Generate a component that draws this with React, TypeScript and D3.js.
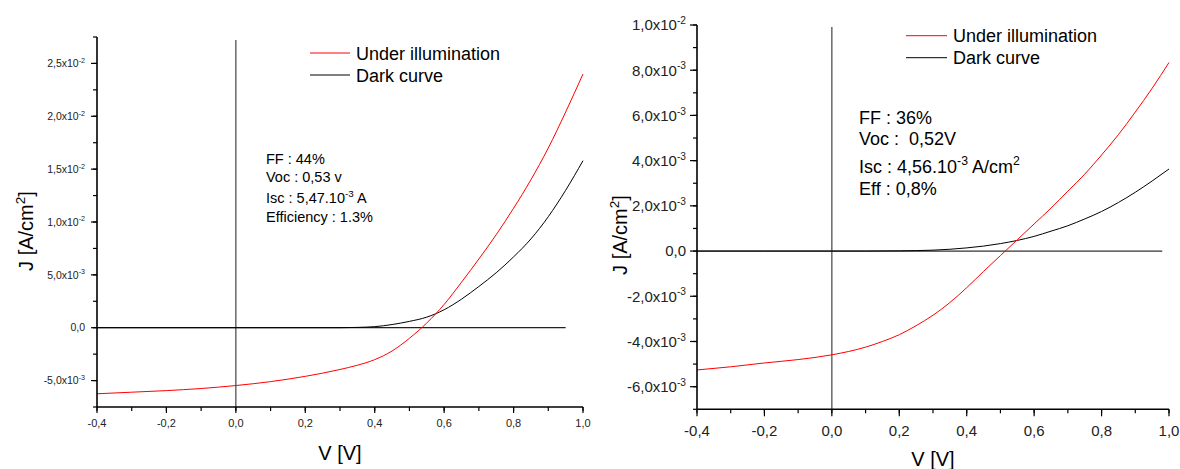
import React from "react";
import * as d3 from "d3";

// ---------- DATA ----------
// Left panel (J in A/cm^2, values x1e-3)
const leftIllumV = [-0.4, -0.3, -0.2, -0.1, 0.0, 0.1, 0.2, 0.25, 0.3, 0.35, 0.4, 0.45, 0.5, 0.55, 0.6, 0.65, 0.7, 0.75, 0.8, 0.85, 0.9, 0.95, 1.0];
const leftIllumJ = [-6.25, -6.1, -5.95, -5.75, -5.47, -5.1, -4.6, -4.3, -3.95, -3.55, -3.02, -2.2, -1.0, 0.45, 2.2, 4.3, 6.5, 8.8, 11.3, 14.0, 17.0, 20.4, 24.0];
const leftDarkV = [-0.4, -0.2, 0.0, 0.2, 0.3, 0.35, 0.4, 0.45, 0.5, 0.55, 0.6, 0.65, 0.7, 0.75, 0.8, 0.85, 0.9, 0.95, 1.0];
const leftDarkJ = [0, 0, 0, 0, 0.0, 0.03, 0.1, 0.3, 0.6, 1.0, 1.7, 2.7, 3.9, 5.2, 6.7, 8.4, 10.5, 13.0, 15.8];

// Right panel (J in A/cm^2, values x1e-3)
const rightIllumV = [-0.4, -0.3, -0.2, -0.1, 0.0, 0.1, 0.15, 0.2, 0.25, 0.3, 0.35, 0.4, 0.45, 0.5, 0.55, 0.6, 0.65, 0.7, 0.75, 0.8, 0.85, 0.9, 0.95, 1.0];
const rightIllumJ = [-5.26, -5.12, -4.95, -4.8, -4.59, -4.25, -4.0, -3.7, -3.3, -2.84, -2.28, -1.62, -0.9, -0.2, 0.5, 1.2, 1.9, 2.65, 3.4, 4.25, 5.15, 6.15, 7.2, 8.34];
const rightDarkV = [-0.4, -0.2, 0.0, 0.1, 0.2, 0.3, 0.4, 0.45, 0.5, 0.55, 0.6, 0.65, 0.7, 0.75, 0.8, 0.85, 0.9, 0.95, 1.0];
const rightDarkJ = [0, 0, 0, 0.0, 0.01, 0.04, 0.14, 0.22, 0.33, 0.47, 0.65, 0.88, 1.12, 1.42, 1.75, 2.15, 2.6, 3.1, 3.63];

// Ticks
const xMajorTicks = [-0.4, -0.2, 0.0, 0.2, 0.4, 0.6, 0.8, 1.0];
const xTickLabels = ["-0,4", "-0,2", "0,0", "0,2", "0,4", "0,6", "0,8", "1,0"];
const leftYMajor = [-0.005, 0, 0.005, 0.01, 0.015, 0.02, 0.025];
const rightYMajor = [-0.006, -0.004, -0.002, 0, 0.002, 0.004, 0.006, 0.008, 0.01];

const legendLabels = ["Under illumination", "Dark curve"];
const leftNotes = ["FF : 44%", "Voc : 0,53 v", "Isc : 5,47.10|-3| A", "Efficiency : 1.3%"];
const rightNotes = ["FF : 36%", "Voc :  0,52V", "Isc : 4,56.10|-3| A/cm|2", "Eff : 0,8%"];

const FONT = "'Liberation Sans', Arial, Helvetica, sans-serif";

function fmtSci(v: number): { m: string; e: string | null } {
  if (Math.abs(v) < 1e-12) return { m: "0,0", e: null };
  const e = Math.floor(Math.log10(Math.abs(v)) + 1e-9);
  const m = v / Math.pow(10, e);
  return { m: m.toFixed(1).replace(".", ",") + "x10", e: String(e) };
}

function RichText({ text, x, y, size, supSize, supDy }: any) {
  const parts = text.split("|");
  const out: any[] = [];
  let raised = false;
  parts.forEach((p: string, i: number) => {
    if (p === "") return;
    const isSup = i % 2 === 1;
    let dy = 0;
    if (isSup && !raised) { dy = -supDy; raised = true; }
    if (!isSup && raised) { dy = supDy; raised = false; }
    out.push(
      <tspan key={i} dy={dy} fontSize={isSup ? supSize : size}>{p}</tspan>
    );
  });
  return (
    <text x={x} y={y} fontSize={size} fontFamily={FONT} fill="#000" style={{ whiteSpace: "pre" }}>
      {out}
    </text>
  );
}

function Panel(props: any) {
  const {
    xRange, yRange, yDomain, yMajor, yMinorStep,
    illumV, illumJ, darkV, darkJ,
    zeroEnd, vTop, tickFont, yTickFont, yLabelGap, xLabelY,
    majorLen, minorLen, legend, notes, noteFont, noteX, noteYs,
    jTitle, vTitle, titleFont, axisW, zeroColor,
  } = props;
  const x = d3.scaleLinear().domain([-0.4, 1.0]).range(xRange);
  const y = d3.scaleLinear().domain(yDomain).range(yRange);
  const line = d3.line<[number, number]>()
    .x((d) => x(d[0]))
    .y((d) => y(d[1] * 1e-3))
    .curve(d3.curveMonotoneX);
  const illum = illumV.map((v: number, i: number) => [v, illumJ[i]] as [number, number]);
  const dark = darkV.map((v: number, i: number) => [v, darkJ[i]] as [number, number]);
  const xMinor = d3.range(-0.4, 1.0001, 0.1);
  const yMinor = d3.range(yDomain[0], yDomain[1] + 1e-9, yMinorStep);
  const x0 = xRange[0];
  const yb = yRange[0];

  return (
    <g>
      <line x1={x(0)} x2={x(0)} y1={vTop} y2={yb} stroke="#444" strokeWidth={1.2} />
      <line x1={x0} x2={x(zeroEnd)} y1={y(0)} y2={y(0)} stroke={zeroColor} strokeWidth={1.2} />
      <path d={line(dark) || ""} fill="none" stroke="#000" strokeWidth={1} />
      <path d={line(illum) || ""} fill="none" stroke="#ff0000" strokeWidth={1} />
      <line x1={x0} x2={x0} y1={yRange[1]} y2={yb} stroke="#000" strokeWidth={axisW} />
      <line x1={x0} x2={xRange[1]} y1={yb} y2={yb} stroke="#000" strokeWidth={axisW} />
      {xMinor.map((v: number, i: number) => (
        <line key={"xm" + i} x1={x(v)} x2={x(v)} y1={yb} y2={yb + minorLen} stroke="#000" strokeWidth={1.2} />
      ))}
      {xMajorTicks.map((v, i) => (
        <g key={"xM" + i}>
          <line x1={x(v)} x2={x(v)} y1={yb} y2={yb + majorLen} stroke="#000" strokeWidth={1.2} />
          <text x={x(v)} y={xLabelY} textAnchor="middle" fontSize={tickFont} fontFamily={FONT} fill="#222">{xTickLabels[i]}</text>
        </g>
      ))}
      {yMinor.map((v: number, i: number) => (
        <line key={"ym" + i} x1={x0} x2={x0 - minorLen} y1={y(v)} y2={y(v)} stroke="#000" strokeWidth={1.2} />
      ))}
      {yMajor.map((v: number, i: number) => {
        const f = fmtSci(v);
        return (
          <g key={"yM" + i}>
            <line x1={x0} x2={x0 - majorLen} y1={y(v)} y2={y(v)} stroke="#000" strokeWidth={1.2} />
            <text x={x0 - yLabelGap} y={y(v) + yTickFont * 0.36} textAnchor="end" fontSize={yTickFont} fontFamily={FONT} fill="#222">
              {f.m}
              {f.e !== null && (
                <tspan dy={-yTickFont * 0.42} fontSize={yTickFont * 0.68}>{f.e}</tspan>
              )}
            </text>
          </g>
        );
      })}
      {legend.map((l: any, i: number) => (
        <g key={"lg" + i}>
          <line x1={l.x1} x2={l.x2} y1={l.y} y2={l.y} stroke={i === 0 ? "#ff0000" : "#000"} strokeWidth={1} />
          <text x={l.x2 + 6} y={l.y + 6.5} fontSize={18} fontFamily={FONT} fill="#000">{legendLabels[i]}</text>
        </g>
      ))}
      {notes.map((n: string, i: number) => (
        <RichText key={"n" + i} text={n} x={noteX} y={noteYs[i]} size={noteFont} supSize={noteFont * 0.68} supDy={noteFont * 0.42} />
      ))}
      <text transform={`translate(${jTitle[0]},${jTitle[1]}) rotate(-90)`} textAnchor="middle" fontSize={titleFont} fontFamily={FONT} fill="#000">
        J [A/cm<tspan dy={-titleFont * 0.42} fontSize={titleFont * 0.68}>2</tspan><tspan dy={titleFont * 0.42}>]</tspan>
      </text>
      <text x={(xRange[0] + xRange[1]) / 2} y={vTitle} textAnchor="middle" fontSize={titleFont} fontFamily={FONT} fill="#000">V [V]</text>
    </g>
  );
}

export default function App() {
  return (
    <svg width={1180} height={469} style={{ position: "absolute", left: 0, top: 0, background: "#fff" }}>
      <rect width={1180} height={469} fill="#fff" />
      <Panel
        xRange={[97, 583]}
        yRange={[407, 37]}
        yDomain={[-0.0075, 0.0275]}
        yMajor={leftYMajor}
        yMinorStep={0.0025}
        illumV={leftIllumV} illumJ={leftIllumJ}
        darkV={leftDarkV} darkJ={leftDarkJ}
        zeroEnd={0.95}
        vTop={40}
        tickFont={11}
        yTickFont={10.5}
        yLabelGap={12}
        xLabelY={427}
        majorLen={6} minorLen={4}
        legend={[{ x1: 310, x2: 350, y: 53 }, { x1: 310, x2: 350, y: 75 }]}
        notes={leftNotes}
        noteFont={14.5}
        noteX={266}
        noteYs={[164, 182, 203, 222]}
        jTitle={[33, 231]}
        vTitle={460}
        titleFont={20}
        axisW={1.6}
        zeroColor="#222"
      />
      <Panel
        xRange={[697, 1169]}
        yRange={[409.3, 25]}
        yDomain={[-0.007, 0.01]}
        yMajor={rightYMajor}
        yMinorStep={0.001}
        illumV={rightIllumV} illumJ={rightIllumJ}
        darkV={rightDarkV} darkJ={rightDarkJ}
        zeroEnd={0.98}
        vTop={27}
        tickFont={15}
        yTickFont={15}
        yLabelGap={11}
        xLabelY={436}
        majorLen={7} minorLen={4}
        legend={[{ x1: 906, x2: 947, y: 35.7 }, { x1: 906, x2: 947, y: 57.7 }]}
        notes={rightNotes}
        noteFont={18}
        noteX={859}
        noteYs={[123.5, 144.5, 172.5, 194.5]}
        jTitle={[627, 235]}
        vTitle={466}
        titleFont={20}
        axisW={1.6}
        zeroColor="#333"
      />
    </svg>
  );
}
